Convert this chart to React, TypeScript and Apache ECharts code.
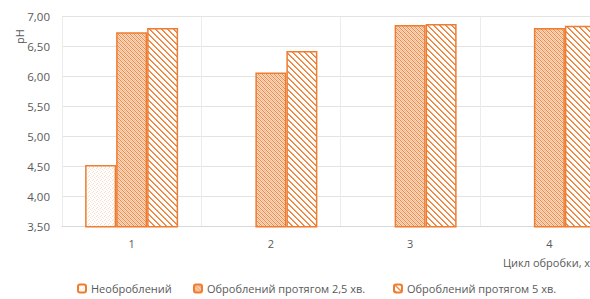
import React, { useEffect, useRef } from "react";
import * as echarts from "echarts";

const categories = ["1", "2", "3", "4"];
const seriesNames = [
  "Необроблений",
  "Оброблений протягом 2,5 хв.",
  "Оброблений протягом 5 хв.",
];
const untreated = [4.53, null, null, null];
const treated25 = [6.74, 6.07, 6.86, 6.81];
const treated5 = [6.81, 6.43, 6.88, 6.85];
const yMin = 3.5;
const yMax = 7.0;
const yStep = 0.5;

const ORANGE = "#ED7D31";

function makePattern(kind: number): HTMLCanvasElement {
  const c = document.createElement("canvas");
  const size = kind === 2 ? 6 : 4;
  c.width = size;
  c.height = size;
  const ctx = c.getContext("2d")!;
  if (kind === 0) {
    ctx.fillStyle = "#ffffff";
    ctx.fillRect(0, 0, size, size);
    ctx.fillStyle = "rgba(237,125,49,0.28)";
    ctx.fillRect(0, 0, 1, 1);
    ctx.fillRect(2, 1, 1, 1);
    ctx.fillRect(1, 3, 1, 1);
    ctx.fillStyle = "rgba(237,125,49,0.12)";
    ctx.fillRect(3, 2, 1, 1);
  } else if (kind === 1) {
    ctx.fillStyle = "#fbdcc6";
    ctx.fillRect(0, 0, size, size);
    ctx.fillStyle = "rgba(237,125,49,0.9)";
    for (let i = 0; i < size; i++) ctx.fillRect(i, i, 1, 1);
    ctx.fillStyle = "rgba(237,125,49,0.4)";
    for (let i = 0; i < size; i++) ctx.fillRect((i + 2) % size, i, 1, 1);
  } else {
    ctx.fillStyle = "#ffffff";
    ctx.fillRect(0, 0, size, size);
    for (let y = 0; y < size; y++) {
      for (let x = 0; x < size; x++) {
        const d = (((x - y) % size) + size) % size;
        if (d === 0) {
          ctx.fillStyle = ORANGE;
          ctx.fillRect(x, y, 1, 1);
        } else if (d === 1) {
          ctx.fillStyle = "rgba(237,125,49,0.75)";
          ctx.fillRect(x, y, 1, 1);
        }
      }
    }
  }
  return c;
}

export default function App() {
  const ref = useRef<HTMLDivElement>(null);
  useEffect(() => {
    if (!ref.current) return;
    const chart = echarts.init(ref.current, undefined, { renderer: "svg" });
    const patterns = [0, 1, 2].map((k) => ({
      image: makePattern(k),
      repeat: "repeat",
    }));
    const dataSets = [untreated, treated25, treated5];
    const font = "'Open Sans', sans-serif";
    const legendLefts = [77, 193, 393];
    chart.setOption({
      animation: false,
      textStyle: { fontFamily: font },
      grid: { left: 62, right: 61, top: 16.7, bottom: 72.3, containLabel: false },
      xAxis: {
        type: "category",
        data: categories,
        axisLine: { lineStyle: { color: "#d9d9d9" } },
        axisTick: { show: false },
        splitLine: { show: true, lineStyle: { color: "#ececec" } },
        axisLabel: { color: "#595959", fontSize: 11, margin: 11, fontFamily: font },
      },
      yAxis: {
        type: "value",
        min: yMin,
        max: yMax,
        interval: yStep,
        axisLine: { show: false },
        axisTick: { show: false },
        splitLine: { lineStyle: { color: "#e3e3e3" } },
        axisLabel: {
          color: "#595959",
          fontSize: 11.5,
          margin: 12,
          fontFamily: font,
          formatter: (v: number) => v.toFixed(2).replace(".", ","),
        },
      },
      legend: seriesNames.map((n, i) => ({
        data: [n],
        left: legendLefts[i],
        top: 283,
        padding: 0,
        itemWidth: 8,
        itemHeight: 8,
        itemGap: 4,
        textStyle: { color: "#595959", fontSize: 11, fontFamily: font },
      })),
      graphic: [
        {
          type: "text",
          left: 503,
          top: 257,
          style: {
            text: "Цикл обробки, хв.",
            fill: "#595959",
            fontSize: 11,
            fontFamily: font,
          },
        },
        {
          type: "text",
          x: 14,
          y: 44,
          rotation: Math.PI / 2,
          style: {
            text: "pH",
            fill: "#595959",
            fontSize: 11,
            fontFamily: font,
          },
        },
      ],
      series: seriesNames.map((n, i) => ({
        name: n,
        type: "bar",
        data: dataSets[i],
        barWidth: 31,
        barGap: "0%",
        itemStyle: {
          color: patterns[i],
          borderColor: ORANGE,
          borderWidth: 1.5,
        },
      })),
    });
    return () => chart.dispose();
  }, []);
  return (
    <div
      style={{
        position: "fixed",
        left: 0,
        top: 0,
        width: 590,
        height: 299,
        overflow: "hidden",
        background: "#fff",
      }}
    >
      <div ref={ref} style={{ width: 680, height: 299 }} />
    </div>
  );
}
